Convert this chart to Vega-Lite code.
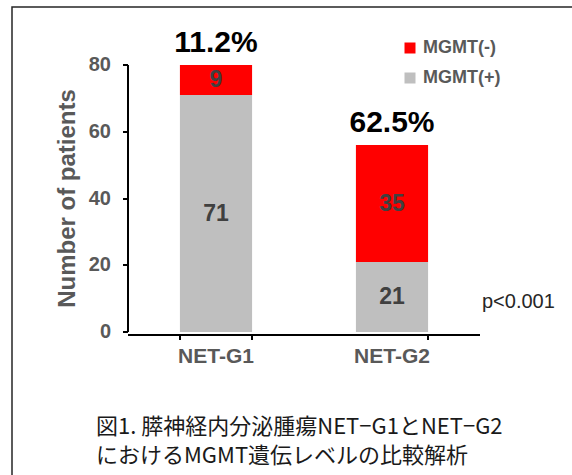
{
  "$schema": "https://vega.github.io/schema/vega-lite/v6.json",
  "autosize": {"type": "none"},
  "width": 563,
  "height": 471,
  "padding": {"left": 12, "top": 7, "right": -3, "bottom": -3},
  "background": "white",
  "config": {
    "view": {"stroke": "#262626", "strokeWidth": 1.5},
    "font": "Liberation Sans",
    "axis": {"domainColor": "#000000", "domainWidth": 2, "tickColor": "#000000", "tickWidth": 2, "tickSize": 5, "grid": false, "translate": 0}
  },
  "datasets": {
    "counts": [
      {"grade": "NET-G1", "status": "MGMT(+)", "count": 71},
      {"grade": "NET-G1", "status": "MGMT(-)", "count": 9},
      {"grade": "NET-G2", "status": "MGMT(+)", "count": 21},
      {"grade": "NET-G2", "status": "MGMT(-)", "count": 35}
    ],
    "totals": [
      {"grade": "NET-G1", "total": 80, "pct": "11.2%"},
      {"grade": "NET-G2", "total": 56, "pct": "62.5%"}
    ],
    "note": [{"label": "p<0.001"}]
  },
  "layer": [
    {
      "data": {"name": "counts"},
      "mark": {"type": "bar"},
      "encoding": {
        "x": {
          "field": "grade", "type": "nominal",
          "scale": {"range": [116, 468], "paddingInner": 0.59, "paddingOuter": 0.295},
          "axis": {
            "title": ["図1. 膵神経内分泌腫瘍NET−G1とNET−G2", "におけるMGMT遺伝レベルの比較解析"],
            "titleX": 84, "titleY": 99, "titleAlign": "left", "titleAngle": 0,
            "titleBaseline": "alphabetic",
            "titleFont": "Noto Sans CJK JP", "titleFontSize": 22, "titleFontWeight": "normal",
            "titleColor": "#1a1a1a", "titleLineHeight": 29,
            "offset": -143, "labelAngle": 0, "tickBand": "extent", "translate": 0,
            "domainColor": "#000000", "domainWidth": 2,
            "tickColor": "#000000", "tickSize": 5, "tickWidth": 2,
            "labelFont": "Liberation Sans", "labelFontSize": 21, "labelFontWeight": "bold",
            "labelColor": "#595959", "labelPadding": 6
          }
        },
        "y": {
          "field": "count", "type": "quantitative", "stack": "zero",
          "scale": {"domain": [0, 80], "range": [325, 58], "nice": false},
          "axis": {
            "title": "Number of patients", "values": [0, 20, 40, 60, 80],
            "offset": -116, "grid": false, "translate": 0,
            "domainColor": "#000000", "domainWidth": 2,
            "tickColor": "#000000", "tickSize": 5, "tickWidth": 2,
            "labelFont": "Liberation Sans", "labelFontSize": 20, "labelFontWeight": "bold",
            "labelColor": "#595959", "labelPadding": 12,
            "titleFont": "Liberation Sans", "titleFontSize": 24, "titleFontWeight": "bold",
            "titleColor": "#595959", "titlePadding": 9
          }
        },
        "color": {
          "field": "status", "type": "nominal",
          "scale": {"domain": ["MGMT(-)", "MGMT(+)"], "range": ["#FF0000", "#BFBFBF"]},
          "legend": {
            "orient": "none", "legendX": 389, "legendY": 32, "title": null, "padding": 0,
            "symbolType": "square", "symbolSize": 121, "symbolStrokeWidth": 0,
            "labelFont": "Liberation Sans", "labelFontSize": 18, "labelFontWeight": "bold",
            "labelColor": "#595959", "labelOffset": 4, "rowPadding": 12
          }
        },
        "order": {"field": "status"}
      }
    },
    {
      "data": {"name": "counts"},
      "transform": [
        {"stack": "count", "groupby": ["grade"], "sort": [{"field": "status"}], "as": ["y0", "y1"]},
        {"calculate": "(datum.y0 + datum.y1) / 2", "as": "ymid"}
      ],
      "mark": {"type": "text", "fontSize": 23, "fontWeight": "bold", "color": "#404040", "baseline": "middle", "font": "Liberation Sans"},
      "encoding": {
        "x": {"field": "grade", "type": "nominal"},
        "y": {"field": "ymid", "type": "quantitative"},
        "text": {"field": "count", "type": "quantitative"}
      }
    },
    {
      "data": {"name": "totals"},
      "mark": {"type": "text", "fontSize": 30, "fontWeight": "bold", "color": "#000000", "baseline": "alphabetic", "dy": -13.5, "font": "Liberation Sans"},
      "encoding": {
        "x": {"field": "grade", "type": "nominal"},
        "y": {"field": "total", "type": "quantitative"},
        "text": {"field": "pct", "type": "nominal"}
      }
    },
    {
      "data": {"name": "note"},
      "mark": {"type": "text", "fontSize": 20, "color": "#262626", "align": "left", "baseline": "alphabetic", "dx": 90, "font": "Liberation Sans"},
      "encoding": {
        "x": {"datum": "NET-G2", "type": "nominal"},
        "y": {"datum": 7.2, "type": "quantitative"},
        "text": {"field": "label", "type": "nominal"}
      }
    }
  ]
}
